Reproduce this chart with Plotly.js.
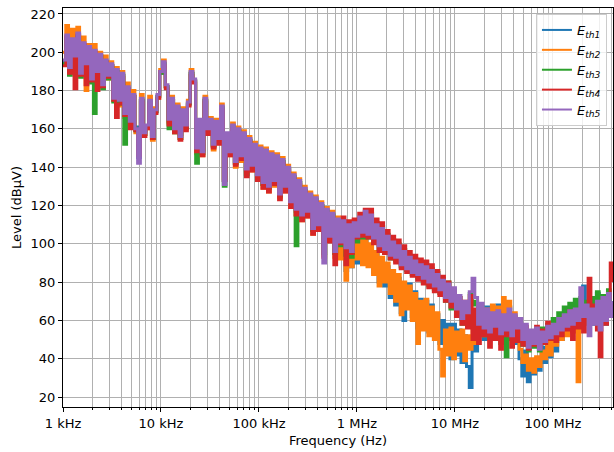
<!DOCTYPE html>
<html>
<head>
<meta charset="utf-8">
<script src="https://cdn.plot.ly/plotly-3.0.1.min.js"></script>
<style>html,body{margin:0;padding:0;background:#fff;}#chart{width:614px;height:452px;}</style>
</head>
<body>
<div id="chart"></div>
<script>
// Frequency sweep: 200 log-spaced points from 1 kHz to 410 MHz
const fStartLog = 3;
const fStopLog = 8.613;
const nPts = 200;
const freq = [];
for (let i = 0; i < nPts; i++) freq.push(Math.pow(10, fStartLog + i * (fStopLog - fStartLog) / (nPts - 1)));

const seriesNames = ["<i>E</i><sub><i>th1</i></sub>", "<i>E</i><sub><i>th2</i></sub>", "<i>E</i><sub><i>th3</i></sub>", "<i>E</i><sub><i>th4</i></sub>", "<i>E</i><sub><i>th5</i></sub>"];

const Eth1 = [
195,208,191,206,197,209,190,204,193,202,
187,200,189,198,184,195,187,193,177,190,
174,188,169,181,165,177,161,145,175,159,
161,174,157,169,177,189,194,182,164,175,
159,171,157,169,161,173,189,185,151,164,
149,175,159,164,151,163,154,171,133,157,
147,161,142,159,145,157,138,154,140,151,
135,149,131,148,129,146,132,145,125,143,
129,139,121,135,117,132,114,128,116,125,
107,123,109,120,95,117,103,115,95,112,
94,104,86,101,88,100,90,105,91,102,
90,98,85,95,80,91,78,88,72,84,
68,82,64,60,70,79,62,75,56,71,
58,70,54,68,52,63,48,60,44,58,
40,58,42,55,38,52,36,25,50,44,
55,64,50,67,56,65,53,68,58,66,
56,67,54,62,48,40,31,44,28,37,
32,40,34,46,38,48,41,52,44,55,
50,61,53,64,56,66,58,70,78,62,
60,71,58,74,62,70,58,73,64,70
];

const Eth2 = [
200,214,195,212,199,213,188,208,180,204,
188,204,189,200,182,198,186,195,175,192,
172,190,166,184,163,180,158,150,178,157,
160,177,154,171,176,191,196,182,163,177,
158,173,155,171,160,175,191,185,147,163,
146,177,158,166,149,165,153,173,134,157,
146,163,140,161,143,159,137,156,138,153,
133,151,129,150,127,148,130,147,124,145,
127,141,119,137,115,134,112,130,114,127,
105,125,107,122,94,119,102,117,93,114,
92,106,81,100,88,103,92,107,89,104,
88,100,84,96,78,93,80,90,74,86,
70,84,63,80,66,78,60,74,48,70,
55,71,52,67,50,64,45,31,55,42,
56,40,54,44,55,39,52,45,56,48,
56,63,52,66,58,68,55,67,60,72,
58,70,55,64,52,45,38,42,34,40,
33,41,36,44,40,50,42,54,47,56,
50,60,52,62,54,58,28,60,66,58,
62,70,60,71,58,68,61,72,63,66
];

const Eth3 = [
194,207,188,205,196,208,187,203,192,201,
184,168,191,198,181,195,186,193,174,190,
173,188,152,181,163,177,159,148,175,157,
161,174,155,169,177,189,194,182,160,175,
158,171,155,169,160,173,189,185,142,164,
147,175,159,164,151,163,154,171,130,157,
147,161,142,159,145,157,136,154,140,151,
135,149,131,148,129,146,132,145,125,143,
129,139,121,135,99,132,114,128,116,125,
107,123,109,120,95,117,103,115,95,112,
99,111,94,108,93,110,101,113,103,116,
103,116,101,111,97,109,95,105,92,102,
91,100,88,97,86,94,84,92,82,90,
80,89,78,87,76,85,74,82,70,80,
66,76,62,72,58,69,60,74,68,70,
56,67,52,64,50,62,54,63,48,60,
41,62,50,60,52,58,47,56,44,53,
46,55,44,56,50,58,53,61,56,64,
58,67,60,69,62,71,63,72,64,70,
58,72,62,75,60,73,63,76,62,68
];

const Eth4 = [
193,208,189,204,181,209,188,204,183,202,
185,200,180,198,182,195,187,193,175,166,
173,187,167,181,160,177,159,146,174,156,
160,173,155,168,176,190,193,181,162,175,
158,170,154,168,159,172,188,184,148,162,
146,174,157,163,150,162,152,170,133,156,
146,160,141,158,144,156,135,153,138,150,
133,148,129,147,127,145,131,144,123,142,
127,138,119,134,115,131,112,127,114,124,
105,122,107,119,93,116,101,114,89,111,
100,114,89,112,95,113,103,116,104,118,
103,118,100,113,96,111,95,107,92,104,
90,102,87,99,85,96,83,94,81,92,
79,91,77,89,75,86,73,83,70,80,
67,75,62,72,58,70,56,73,50,66,
48,65,52,62,46,61,50,64,45,60,
52,63,46,60,49,58,47,57,45,54,
47,57,46,55,48,59,50,56,49,58,
52,62,55,65,50,63,56,66,54,64,
82,60,68,55,41,66,58,72,90,80
];

const Eth5 = [
196,209,192,207,198,210,189,205,194,203,
186,201,190,199,183,196,188,194,176,191,
175,189,168,182,164,178,160,142,176,158,
162,175,156,170,178,190,195,183,165,176,
160,172,156,170,162,174,190,186,150,165,
148,176,160,165,152,164,155,172,131,158,
148,162,143,160,146,158,139,155,141,152,
136,150,132,149,130,147,133,146,126,144,
130,140,122,136,118,133,115,129,117,126,
108,124,110,121,90,118,104,116,96,113,
101,112,98,110,96,111,104,114,106,117,
105,115,103,110,99,108,97,104,94,101,
93,99,89,96,87,93,85,91,84,89,
82,88,80,86,78,84,76,81,72,79,
70,77,66,73,61,70,64,75,82,72,
58,69,56,66,54,64,57,65,53,63,
55,66,52,63,56,61,50,58,46,55,
48,56,45,54,49,57,51,58,53,61,
55,63,57,65,58,66,60,77,62,68,
52,66,58,70,55,72,60,74,62,70
];

const seriesValues = [Eth1, Eth2, Eth3, Eth4, Eth5];
const colors = ["#1f77b4", "#ff7f0e", "#2ca02c", "#d62728", "#9467bd"];

const xTickVals = [1e3, 1e4, 1e5, 1e6, 1e7, 1e8];
const xTickText = ["1 kHz", "10 kHz", "100 kHz", "1 MHz", "10 MHz", "100 MHz"];
const yTickVals = [20, 40, 60, 80, 100, 120, 140, 160, 180, 200, 220];

const minorVals = [];
for (let d = 3; d <= 8; d++) for (let m = 2; m <= 9; m++) minorVals.push(m * Math.pow(10, d));

const traces = seriesValues.map((vals, k) => ({
  x: freq, y: vals, type: "scatter", mode: "lines",
  name: seriesNames[k], showlegend: false,
  line: {color: colors[k], width: 3, shape: "hv"}
}));
// legend entries (no data, thinner line as in the reference legend)
seriesNames.forEach((nm, k) => traces.push({
  x: [null], y: [null], type: "scatter", mode: "lines",
  name: nm, showlegend: true,
  line: {color: colors[k], width: 2}
}));

const font = {family: "DejaVu Sans", size: 13, color: "#000"};
const layout = {
  width: 614, height: 452,
  margin: {l: 63, r: 1, t: 8, b: 45},
  paper_bgcolor: "#fff", plot_bgcolor: "#fff",
  font: font,
  showlegend: true,
  legend: {
    x: 0.989, y: 0.985, xanchor: "right", yanchor: "top",
    bgcolor: "rgba(255,255,255,0.8)", bordercolor: "#cccccc", borderwidth: 1,
    font: {family: "DejaVu Sans", size: 13, color: "#000"},
    itemwidth: 30, tracegroupgap: 0
  },
  xaxis: {
    type: "log", range: [3, 8.613],
    tickmode: "array", tickvals: xTickVals, ticktext: xTickText,
    ticks: "outside", ticklen: 4, tickwidth: 1, tickcolor: "#000",
    showgrid: true, gridcolor: "#b0b0b0", gridwidth: 1,
    minor: {tickmode: "array", tickvals: minorVals, ticks: "outside", ticklen: 2, tickcolor: "#000", showgrid: true, gridcolor: "#b0b0b0", gridwidth: 1},
    showline: true, linecolor: "#000", linewidth: 1, mirror: true,
    zeroline: false,
    title: {text: "Frequency (Hz)", font: font, standoff: 6},
    tickfont: font
  },
  yaxis: {
    range: [14.8, 223.1],
    tickmode: "array", tickvals: yTickVals,
    ticks: "outside", ticklen: 4, tickwidth: 1, tickcolor: "#000",
    showgrid: true, gridcolor: "#b0b0b0", gridwidth: 1,
    showline: true, linecolor: "#000", linewidth: 1, mirror: true,
    zeroline: false,
    title: {text: "Level (dBμV)", font: font, standoff: 6},
    tickfont: font
  }
};

Plotly.newPlot("chart", traces, layout, {staticPlot: true, displayModeBar: false});
</script>
</body>
</html>
